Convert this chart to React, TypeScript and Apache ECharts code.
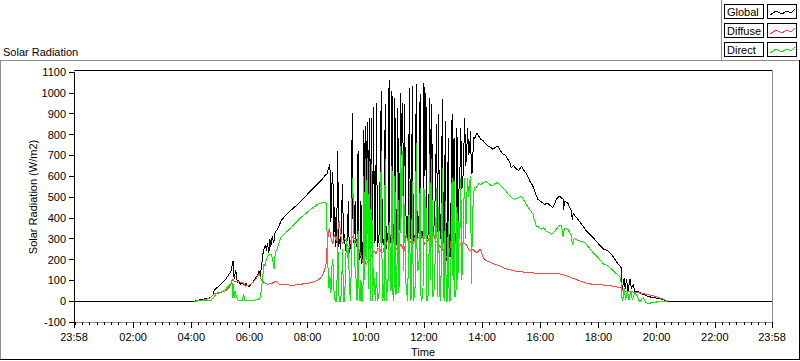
import { useEffect, useRef } from "react";
import * as echarts from "echarts";

// ---- data (minutes after 00:00, W/m2) ----
const seriesNames = ["Global", "Diffuse", "Direct"];
const seriesColors = ["#000000", "#ff4444", "#00f000"];

const yTicks = [-100, 0, 100, 200, 300, 400, 500, 600, 700, 800, 900, 1000, 1100];
const xMajorTicks = [-2, 120, 240, 360, 480, 600, 720, 840, 960, 1080, 1200, 1320, 1438];

// Spiky midday section: one value every 2 minutes starting 08:40
const spikeStart = 520;
const spikeStep = 2;

const globalMorning: [number, number][] = [
  [-2, 0], [246, 0], [252, 3], [260, 8], [268, 11], [275, 14], [280, 17], [285, 30], [287, 50], [291, 62],
  [296, 70], [301, 82], [306, 92], [311, 106], [316, 122], [322, 145], [324, 170], [326, 193], [328, 120],
  [329, 106], [331, 150], [333, 130], [335, 89], [338, 100], [341, 80], [345, 90], [349, 78], [353, 85],
  [356, 75], [359, 69], [363, 81], [368, 95], [373, 113], [377, 125], [380, 145], [382, 120], [385, 170],
  [388, 230], [390, 250], [393, 270], [395, 240], [397, 281], [400, 230], [402, 300], [404, 260], [407, 313],
  [410, 280], [413, 330], [418, 346], [421, 360], [425, 385], [432, 405], [440, 425], [452, 449], [466, 480],
  [480, 514], [490, 538], [500, 562], [508, 580], [514, 597], [518, 610],
];
const globalSpike = [
  610, 630, 645, 655, 380, 560, 620, 300, 450, 260,
  330, 720, 260, 300, 250, 420, 560, 280, 320, 240,
  270, 300, 480, 230, 260, 300, 905, 280, 330, 480,
  260, 300, 720, 230, 200, 480, 180, 200, 820, 400,
  840, 500, 860, 380, 880, 300, 881, 260, 930, 280,
  300, 953, 260, 290, 330, 700, 1009, 280, 300, 260,
  945, 250, 300, 330, 1061, 300, 280, 1009, 310, 300,
  977, 260, 320, 929, 300, 450, 1001, 700, 950, 433,
  945, 480, 330, 300, 500, 1025, 300, 320, 1033, 290,
  310, 320, 1041, 305, 330, 420, 993, 305, 310, 330,
  1049, 600, 1000, 320, 300, 400, 977, 330, 945, 300,
  340, 400, 600, 850, 330, 900, 380, 300, 500, 969,
  280, 300, 865, 200, 193, 785, 230, 210, 500, 898,
  300, 785, 280, 300, 833, 350, 529, 600, 833, 540,
  560, 700, 881, 650, 700, 833, 700, 720, 817, 610,
  620, 785, 777, 790, 801, 805, 795, 790, 780, 775,
];
const globalAfternoon: [number, number][] = [
  [842, 770], [845, 761], [852, 745], [857, 740], [862, 729], [867, 738], [872, 745], [877, 725], [883, 705],
  [888, 700], [893, 681], [897, 670], [900, 641], [905, 650], [911, 633], [916, 628], [921, 649], [925, 630],
  [930, 617], [934, 600], [938, 577], [943, 560], [946, 545], [948, 529], [952, 505], [955, 489], [962, 477],
  [969, 465], [975, 470], [980, 460], [986, 449], [990, 470], [993, 489], [1000, 505], [1004, 495], [1007, 489],
  [1008, 440], [1010, 480], [1017, 470], [1024, 433], [1026, 390], [1028, 420], [1035, 401], [1045, 370],
  [1055, 337], [1065, 315], [1072, 297], [1081, 273], [1091, 249], [1100, 241], [1110, 215], [1120, 180],
  [1127, 161], [1129, 49], [1133, 113], [1135, 60], [1138, 105], [1141, 50], [1145, 105], [1148, 60],
  [1152, 81], [1155, 40], [1159, 49], [1165, 41], [1172, 33], [1185, 21], [1210, 10], [1220, 0], [1438, 0],
];

const diffuseData: [number, number][] = [
  [246, 0], [260, 3], [270, 8], [280, 17], [287, 34], [295, 40], [301, 43], [311, 50], [318, 67], [322, 85],
  [325, 106], [329, 96], [335, 96], [340, 92], [346, 89], [352, 72], [357, 76], [363, 81], [368, 92], [373, 106],
  [377, 120], [380, 133], [383, 110], [387, 96], [394, 83], [399, 82], [404, 83], [410, 90], [415, 96], [421, 81],
  [432, 81], [446, 76], [456, 78], [466, 81], [476, 85], [487, 89], [495, 94], [501, 100], [506, 110], [511, 125],
  [515, 150], [518, 180], [521, 290], [525, 353], [528, 305], [532, 273], [535, 321], [539, 289], [542, 337],
  [545, 385], [549, 305], [552, 273], [556, 300], [559, 289], [562, 270], [566, 257], [569, 290], [573, 313],
  [577, 300], [580, 289], [584, 260], [587, 241], [590, 220], [594, 185], [597, 200], [601, 177], [604, 190],
  [607, 193], [611, 215], [614, 233], [618, 240], [621, 225], [624, 250], [628, 257], [631, 240], [635, 233],
  [638, 260], [642, 273], [645, 290], [649, 305], [652, 321], [656, 300], [659, 273], [662, 255], [666, 241],
  [669, 260], [673, 273], [676, 255], [680, 241], [683, 321], [687, 289], [690, 289], [694, 280], [697, 273],
  [700, 290], [704, 305], [707, 300], [711, 310], [714, 321], [718, 300], [721, 273], [725, 280], [728, 289],
  [732, 310], [735, 320], [738, 337], [742, 305], [745, 289], [749, 275], [752, 265], [756, 257], [760, 240],
  [763, 225], [766, 209], [770, 225], [773, 241], [776, 290], [779, 337], [783, 300], [786, 273], [790, 265],
  [793, 265], [796, 275], [800, 281], [804, 275], [807, 273], [811, 255], [814, 241], [818, 245], [821, 249],
  [825, 240], [828, 233], [832, 238], [835, 249], [838, 241], [842, 209], [849, 193], [855, 190], [866, 177],
  [876, 169], [884, 160], [893, 153], [904, 147], [914, 142], [925, 140], [935, 137], [948, 135], [962, 134],
  [975, 133], [990, 134], [1004, 129], [1014, 122], [1024, 113], [1035, 103], [1045, 94], [1055, 87], [1066, 81],
  [1080, 78], [1100, 77], [1114, 69], [1127, 65], [1130, 49], [1145, 46], [1160, 41], [1180, 33], [1200, 21],
  [1213, 10], [1222, 0],
];

const directMorning: [number, number][] = [
  [246, 0], [260, 2], [275, 3], [280, 5], [285, 15], [291, 34], [301, 43], [311, 58], [317, 74], [322, 84],
  [325, 84], [326, 17], [327, 84], [329, 17], [331, 50], [333, 20], [336, 5], [340, 4], [345, 3], [348, 34],
  [350, 5], [360, 3], [370, 5], [378, 8], [382, 17], [385, 60], [387, 106], [390, 178], [392, 170], [394, 193],
  [397, 210], [400, 226], [404, 226], [407, 210], [409, 180], [411, 154], [413, 230], [418, 257], [425, 309],
  [435, 330], [446, 353], [456, 378], [466, 401], [477, 422], [487, 442], [495, 455], [501, 466], [506, 470],
  [511, 473], [516, 472], [518, 470],
];
const directSpike = [
  337, 161, 65, 120, 40, 161, 200, 58, 10, 0,
  0, 337, 40, 0, 0, 60, 250, 0, 0, 120,
  305, 209, 257, 100, 0, 150, 593, 497, 257, 150,
  100, 0, 337, 60, 0, 100, 0, 0, 600, 100,
  680, 200, 688, 60, 674, 0, 660, 0, 160, 60,
  0, 140, 0, 20, 50, 400, 720, 0, 80, 0,
  680, 0, 50, 100, 380, 257, 50, 650, 30, 0,
  600, 30, 60, 620, 40, 150, 745, 400, 720, 145,
  466, 100, 65, 0, 200, 577, 0, 20, 577, 0,
  20, 80, 761, 145, 150, 200, 545, 0, 10, 60,
  545, 300, 500, 0, 10, 100, 705, 100, 680, 20,
  30, 100, 300, 545, 20, 450, 40, 0, 200, 640,
  40, 0, 480, 0, 0, 385, 0, 0, 225, 593,
  100, 577, 20, 30, 450, 100, 385, 300, 593, 100,
  200, 450, 593, 300, 480, 590, 500, 560, 600, 81,
  400, 500, 545, 545, 545, 555, 560, 565, 562, 560,
];
const directAfternoon: [number, number][] = [
  [842, 570], [849, 574], [855, 560], [862, 553], [867, 565], [872, 569], [878, 555], [886, 537], [892, 520],
  [897, 505], [902, 495], [907, 489], [914, 495], [921, 505], [927, 481], [935, 449], [940, 435], [945, 417],
  [948, 385], [952, 361], [957, 355], [962, 345], [967, 352], [972, 337], [978, 330], [983, 321], [990, 337],
  [995, 350], [1000, 366], [1004, 361], [1007, 310], [1010, 350], [1017, 345], [1024, 313], [1026, 270],
  [1030, 300], [1040, 290], [1052, 281], [1066, 241], [1079, 209], [1091, 177], [1100, 169], [1113, 140],
  [1126, 113], [1128, 25], [1130, 0], [1133, 65], [1136, 5], [1140, 49], [1143, 5], [1147, 49], [1150, 5],
  [1155, 41], [1160, 25], [1165, -5], [1172, 17], [1178, -8], [1185, -10], [1195, -5], [1205, -3], [1215, 0],
  [1222, 0],
];

const FONT = "Liberation Sans";

const pad = (n: number) => (n < 10 ? "0" + n : "" + n);
const timeLabel = (m: number) => {
  const mm = ((Math.round(m) % 1440) + 1440) % 1440;
  return pad(Math.floor(mm / 60)) + ":" + pad(mm % 60);
};

const spikePairs = (vals: number[]): [number, number][] =>
  vals.map((v, i) => [spikeStart + i * spikeStep, v]);

export default function App() {
  const ref = useRef<HTMLDivElement>(null);
  useEffect(() => {
    document.body.style.margin = "0";
    if (!ref.current) return;
    const chart = echarts.init(ref.current, undefined, { renderer: "svg" });

    const globalData = [...globalMorning, ...spikePairs(globalSpike), ...globalAfternoon];
    const directData = [...directMorning, ...spikePairs(directSpike), ...directAfternoon];
    const allData = [globalData, diffuseData, directData];

    const minorTicks: number[] = [];
    for (let m = 0; m <= 1425; m += 15) minorTicks.push(m);

    const gray = "#8e8e8e";
    const graphics: any[] = [
      // outer frame
      { type: "line", shape: { x1: 0, y1: 60.5, x2: 800, y2: 60.5 }, style: { stroke: gray, lineWidth: 1 } },
      { type: "line", shape: { x1: 0.5, y1: 60, x2: 0.5, y2: 360 }, style: { stroke: gray, lineWidth: 1 } },
      { type: "line", shape: { x1: 0, y1: 359.5, x2: 800, y2: 359.5 }, style: { stroke: "#000", lineWidth: 1 } },
      { type: "line", shape: { x1: 799.5, y1: 60, x2: 799.5, y2: 360 }, style: { stroke: "#000", lineWidth: 1 } },
      { type: "line", shape: { x1: 721.5, y1: 0, x2: 721.5, y2: 60 }, style: { stroke: gray, lineWidth: 1 } },
      // plot frame
      { type: "line", shape: { x1: 74, y1: 70.5, x2: 772, y2: 70.5 }, style: { stroke: "#000", lineWidth: 1 } },
      { type: "line", shape: { x1: 772.5, y1: 70, x2: 772.5, y2: 322 }, style: { stroke: gray, lineWidth: 1 } },
      { type: "line", shape: { x1: 74, y1: 322.5, x2: 773, y2: 322.5 }, style: { stroke: gray, lineWidth: 1 } },
      // title and axis names
      { type: "text", x: 3, y: 52, style: { text: "Solar Radiation", font: `11px "${FONT}"`, fill: "#000", verticalAlign: "middle" } },
      {
        type: "text", x: 33, y: 197, rotation: Math.PI / 2,
        style: { text: "Solar Radiation (W/m2)", font: `11px "${FONT}"`, fill: "#000", align: "center", verticalAlign: "middle" },
      },
      { type: "text", x: 423, y: 352, style: { text: "Time", font: `11px "${FONT}"`, fill: "#000", align: "center", verticalAlign: "middle" } },
    ];
    seriesNames.forEach((name, r) => {
      const y0 = 4 + 19 * r;
      graphics.push(
        { type: "rect", shape: { x: 724.5, y: y0 + 0.5, width: 39, height: 14 }, style: { fill: "#fff", stroke: "#000", lineWidth: 1 } },
        { type: "text", x: 727, y: y0 + 8, style: { text: name, font: `11px "${FONT}"`, fill: "#000", verticalAlign: "middle" } },
        { type: "rect", shape: { x: 767.5, y: y0 + 0.5, width: 29, height: 14 }, style: { fill: "#fff", stroke: "#000", lineWidth: 1 } },
        {
          type: "polyline",
          shape: { points: [[770, y0 + 11], [776, y0 + 7], [782, y0 + 10], [787, y0 + 7], [791, y0 + 9], [795, y0 + 5]] },
          style: { stroke: seriesColors[r], lineWidth: 1, fill: "none" },
        }
      );
    });

    chart.setOption({
      animation: false,
      backgroundColor: "#fff",
      textStyle: { fontFamily: FONT },
      grid: { left: 74, right: 28, top: 72, bottom: 39, containLabel: false },
      xAxis: [
        {
          type: "value", min: -2, max: 1438,
          axisLine: { show: false, onZero: false },
          splitLine: { show: false },
          axisTick: { show: true, customValues: xMajorTicks, length: 6, lineStyle: { color: "#000" } },
          axisLabel: { show: true, customValues: xMajorTicks, formatter: (v: number) => timeLabel(v), color: "#000", fontFamily: FONT, fontSize: 11, margin: 9 },
        },
        {
          type: "value", min: -2, max: 1438, position: "bottom",
          axisLine: { show: false, onZero: false }, splitLine: { show: false }, axisLabel: { show: false },
          axisTick: { show: true, customValues: minorTicks, length: 3, lineStyle: { color: "#000" } },
        },
      ],
      yAxis: {
        type: "value", min: yTicks[0], max: yTicks[yTicks.length - 1], interval: 100,
        axisLine: { show: true, onZero: false, lineStyle: { color: "#000" } },
        axisTick: { show: true, length: 5, lineStyle: { color: "#000" } },
        splitLine: { show: false },
        axisLabel: { color: "#000", fontFamily: FONT, fontSize: 11, margin: 8, formatter: (v: number) => String(v) },
      },
      graphic: graphics,
      series: seriesNames.map((name, k) => ({
        name, type: "line", data: allData[k], showSymbol: false, symbol: "none",
        lineStyle: { width: 1, color: seriesColors[k] }, itemStyle: { color: seriesColors[k] },
        z: 2 + k,
      })),
    });
    return () => chart.dispose();
  }, []);
  return (
    <>
      <style>{"#root svg path { shape-rendering: crispEdges; }"}</style>
      <div ref={ref} style={{ width: 800, height: 361 }} />
    </>
  );
}
